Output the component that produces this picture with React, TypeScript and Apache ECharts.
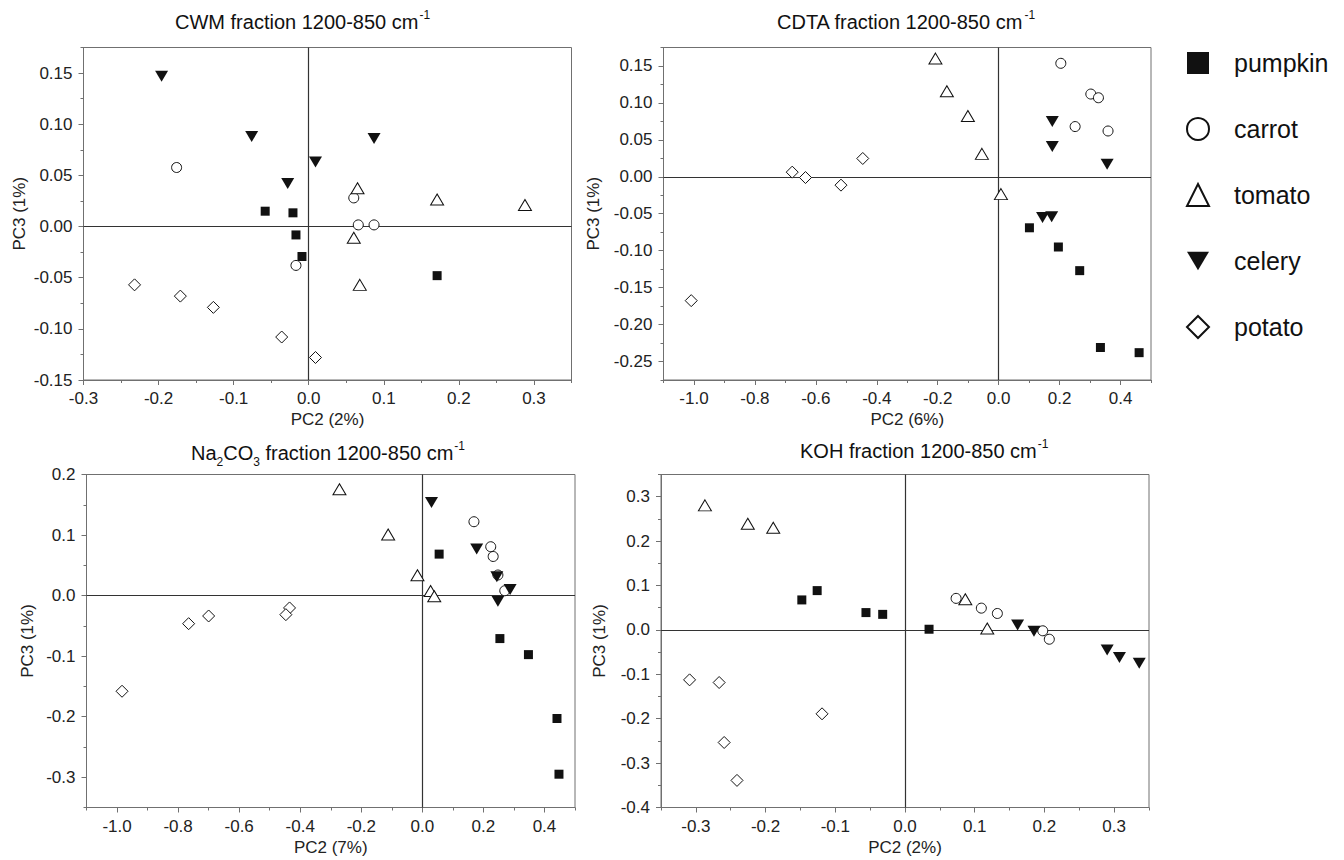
import React, { useEffect, useRef } from "react";
import * as echarts from "echarts";

const FONT = "'Liberation Sans', Arial, Helvetica, sans-serif";
const SPECIES = ["pumpkin", "carrot", "tomato", "celery", "potato"];

// ---- CWM fraction (PC2 2%, PC3 1%)
const cwmPumpkin = [[-0.058, 0.015], [-0.021, 0.0134], [-0.017, -0.0082], [-0.009, -0.0293], [0.171, -0.048]];
const cwmCarrot = [[-0.176, 0.0577], [0.060, 0.028], [0.066, 0.0016], [0.087, 0.0016], [-0.017, -0.038]];
const cwmTomato = [[0.065, 0.0375], [0.171, 0.0265], [0.288, 0.021], [0.060, -0.011], [0.068, -0.057]];
const cwmCelery = [[-0.196, 0.147], [-0.076, 0.088], [0.087, 0.086], [0.009, 0.063], [-0.028, 0.042]];
const cwmPotato = [[-0.232, -0.057], [-0.171, -0.068], [-0.127, -0.079], [-0.036, -0.108], [0.009, -0.128]];

// ---- CDTA fraction (PC2 6%, PC3 1%)
const cdtaPumpkin = [[0.101, -0.069], [0.196, -0.095], [0.266, -0.127], [0.334, -0.231], [0.461, -0.238]];
const cdtaCarrot = [[0.204, 0.1536], [0.3025, 0.112], [0.3275, 0.107], [0.251, 0.068], [0.359, 0.062]];
const cdtaTomato = [[-0.2075, 0.16], [-0.17, 0.1158], [-0.101, 0.0824], [-0.055, 0.031], [0.0075, -0.0234]];
const cdtaCelery = [[0.176, 0.075], [0.176, 0.041], [0.356, 0.017], [0.144, -0.055], [0.174, -0.054]];
const cdtaPotato = [[-1.009, -0.1676], [-0.6775, 0.0063], [-0.634, -0.001], [-0.5175, -0.0113], [-0.446, 0.0248]];

// ---- Na2CO3 fraction (PC2 7%, PC3 1%)
const naPumpkin = [[0.055, 0.0685], [0.254, -0.071], [0.3475, -0.0975], [0.441, -0.203], [0.4475, -0.295]];
const naCarrot = [[0.169, 0.122], [0.224, 0.0807], [0.232, 0.0646], [0.2475, 0.034], [0.27, 0.008]];
const naTomato = [[-0.2715, 0.1757], [-0.112, 0.101], [-0.016, 0.0337], [0.027, 0.0077], [0.039, -0.001]];
const naCelery = [[0.03, 0.1536], [0.178, 0.0768], [0.244, 0.031], [0.2875, 0.0099], [0.2475, -0.0094]];
const naPotato = [[-0.9836, -0.158], [-0.7655, -0.0464], [-0.7, -0.0337], [-0.435, -0.0204], [-0.447, -0.0315]];

// ---- KOH fraction (PC2 2%, PC3 1%)
const kohPumpkin = [[-0.148, 0.0675], [-0.126, 0.0885], [-0.056, 0.039], [-0.032, 0.035], [0.0345, 0.0015]];
const kohCarrot = [[0.0733, 0.071], [0.1095, 0.049], [0.1325, 0.037], [0.1976, -0.002], [0.207, -0.021]];
const kohTomato = [[-0.287, 0.2805], [-0.2255, 0.239], [-0.189, 0.23], [0.0865, 0.069], [0.118, 0.003]];
const kohCelery = [[0.1615, 0.011], [0.185, -0.003], [0.29, -0.045], [0.3076, -0.062], [0.336, -0.075]];
const kohPotato = [[-0.309, -0.1125], [-0.2666, -0.1185], [-0.2594, -0.2536], [-0.241, -0.339], [-0.119, -0.189]];

// ---- tick labels
const cwmXTicks = [-0.3, -0.2, -0.1, 0, 0.1, 0.2, 0.3];
const cwmYTicks = [-0.15, -0.1, -0.05, 0, 0.05, 0.1, 0.15];
const cdtaXTicks = [-1.0, -0.8, -0.6, -0.4, -0.2, 0, 0.2, 0.4];
const cdtaYTicks = [-0.25, -0.2, -0.15, -0.1, -0.05, 0, 0.05, 0.1, 0.15];
const naXTicks = [-1.0, -0.8, -0.6, -0.4, -0.2, 0, 0.2, 0.4];
const naYTicks = [-0.3, -0.2, -0.1, 0, 0.1, 0.2];
const kohXTicks = [-0.3, -0.2, -0.1, 0, 0.1, 0.2, 0.3];
const kohYTicks = [-0.4, -0.3, -0.2, -0.1, 0, 0.1, 0.2, 0.3];

const TITLES = [
  "{n|CWM fraction 1200-850 cm}{sup|-1}",
  "{n|CDTA fraction 1200-850 cm}{sup|-1}",
  "{n|Na}{sub|2}{n|CO}{sub|3}{n| fraction 1200-850 cm}{sup|-1}",
  "{n|KOH fraction 1200-850 cm}{sup|-1}",
];
const XNAMES = ["PC2 (2%)", "PC2 (6%)", "PC2 (7%)", "PC2 (2%)"];
const YNAME = "PC3 (1%)";

const PANELS = [
  { data: [cwmPumpkin, cwmCarrot, cwmTomato, cwmCelery, cwmPotato], xr: [-0.3, 0.35], yr: [-0.15, 0.175], xt: cwmXTicks, yt: cwmYTicks, xd: 1, yd: 2 },
  { data: [cdtaPumpkin, cdtaCarrot, cdtaTomato, cdtaCelery, cdtaPotato], xr: [-1.1, 0.5], yr: [-0.275, 0.175], xt: cdtaXTicks, yt: cdtaYTicks, xd: 1, yd: 2 },
  { data: [naPumpkin, naCarrot, naTomato, naCelery, naPotato], xr: [-1.1, 0.5], yr: [-0.35, 0.2], xt: naXTicks, yt: naYTicks, xd: 1, yd: 1 },
  { data: [kohPumpkin, kohCarrot, kohTomato, kohCelery, kohPotato], xr: [-0.35, 0.35], yr: [-0.4, 0.35], xt: kohXTicks, yt: kohYTicks, xd: 1, yd: 1 },
];

const LAYOUT = [
  { grid: { left: 83.5, top: 47.5, width: 488, height: 332.5 }, title: { left: 175, top: 7 }, yGap: 56 },
  { grid: { left: 663.5, top: 47.5, width: 487.5, height: 332.5 }, title: { left: 777, top: 7 }, yGap: 62 },
  { grid: { left: 86.5, top: 474.5, width: 488.5, height: 333 }, title: { left: 191, top: 438 }, yGap: 51 },
  { grid: { left: 661, top: 474.5, width: 488, height: 333 }, title: { left: 800, top: 436 }, yGap: 53 },
];

const DOWN_TRI = "path://M0,0L2,0L1,1.7Z";
const SYMBOLS = [
  { symbol: "rect", size: 9, open: false },
  { symbol: "circle", size: 10, open: true },
  { symbol: "triangle", size: [13, 11], open: true },
  { symbol: DOWN_TRI, size: [13, 11], open: false },
  { symbol: "diamond", size: [12, 12], open: true },
];

function minorsOf(major: number[], range: number[]) {
  const step = major[1] - major[0];
  const out: number[] = [];
  const first = major[0] - step / 2;
  if (first >= range[0] - 1e-9) out.push(first);
  for (const v of major) {
    const m = v + step / 2;
    if (m <= range[1] + 1e-9) out.push(m);
  }
  return out;
}

const fmt = (d: number) => (v: number) => (Math.abs(v) < 1e-9 ? (0).toFixed(d) : v.toFixed(d));

export default function App() {
  const ref = useRef<HTMLDivElement>(null);
  useEffect(() => {
    if (!ref.current) return;
    const chart = echarts.init(ref.current, null, { renderer: "svg" });
    const AX = "#707070";
    const grid: any[] = [];
    const xAxis: any[] = [];
    const yAxis: any[] = [];
    const series: any[] = [];
    const title: any[] = [];
    PANELS.forEach((p, i) => {
      const L = LAYOUT[i];
      grid.push({ ...L.grid, show: true, borderColor: AX, borderWidth: 1, backgroundColor: "transparent" });
      title.push({
        text: TITLES[i],
        left: L.title.left,
        top: L.title.top,
        padding: 0,
        textStyle: {
          fontSize: 20,
          fontWeight: "normal",
          fontFamily: FONT,
          color: "#111",
          rich: {
            n: { fontSize: 20, fontFamily: FONT, color: "#111", lineHeight: 30, verticalAlign: "middle" },
            sup: { fontSize: 12, fontFamily: FONT, color: "#111", lineHeight: 30, verticalAlign: "top", padding: [2, 0, 0, 1] },
            sub: { fontSize: 12, fontFamily: FONT, color: "#111", lineHeight: 30, verticalAlign: "bottom", padding: [0, 0, 0, 0] },
          },
        },
      });
      const common = { type: "value", gridIndex: i, splitLine: { show: false } };
      xAxis.push({
        ...common,
        position: "bottom",
        min: p.xr[0],
        max: p.xr[1],
        name: XNAMES[i],
        nameLocation: "middle",
        nameGap: 31,
        nameTextStyle: { fontSize: 17, fontFamily: FONT, color: "#222" },
        axisLine: { show: true, onZero: false, lineStyle: { color: AX, width: 1 } },
        axisTick: { show: true, inside: false, length: 5, customValues: p.xt, lineStyle: { color: AX } },
        axisLabel: { show: true, customValues: p.xt, margin: 10, fontSize: 17, fontFamily: FONT, color: "#222", formatter: fmt(p.xd) },
      });
      xAxis.push({
        ...common,
        position: "bottom",
        min: p.xr[0],
        max: p.xr[1],
        axisLine: { show: false, onZero: false },
        axisTick: { show: true, inside: false, length: 3, customValues: minorsOf(p.xt, p.xr), lineStyle: { color: AX } },
        axisLabel: { show: false },
      });
      yAxis.push({
        ...common,
        position: "left",
        min: p.yr[0],
        max: p.yr[1],
        name: YNAME,
        nameLocation: "middle",
        nameGap: L.yGap,
        nameRotate: 90,
        nameTextStyle: { fontSize: 17, fontFamily: FONT, color: "#222" },
        axisLine: { show: true, onZero: false, lineStyle: { color: AX, width: 1 } },
        axisTick: { show: true, inside: false, length: 5, customValues: p.yt, lineStyle: { color: AX } },
        axisLabel: { show: true, customValues: p.yt, margin: 11, fontSize: 17, fontFamily: FONT, color: "#222", formatter: fmt(p.yd) },
      });
      yAxis.push({
        ...common,
        position: "left",
        min: p.yr[0],
        max: p.yr[1],
        axisLine: { show: false, onZero: false },
        axisTick: { show: true, inside: false, length: 3, customValues: minorsOf(p.yt, p.yr), lineStyle: { color: AX } },
        axisLabel: { show: false },
      });
      p.data.forEach((d, k) => {
        const s = SYMBOLS[k];
        series.push({
          type: "scatter",
          name: SPECIES[k],
          xAxisIndex: 2 * i,
          yAxisIndex: 2 * i,
          data: d,
          symbol: s.symbol,
          symbolSize: s.size,
          z: 3,
          itemStyle: s.open
            ? { color: "#ffffff", borderColor: "#111", borderWidth: 1, opacity: 1 }
            : { color: "#111", borderColor: "#111", borderWidth: 0, opacity: 1 },
          emphasis: { disabled: true },
          markLine:
            k === 0
              ? {
                  silent: true,
                  symbol: ["none", "none"],
                  label: { show: false },
                  lineStyle: { color: "#333", type: "solid", width: 1.2 },
                  emphasis: { disabled: true },
                  data: [{ xAxis: 0 }, { yAxis: 0 }],
                  z: 1,
                }
              : undefined,
        });
      });
    });

    chart.setOption({
      animation: false,
      backgroundColor: "#ffffff",
      textStyle: { fontFamily: FONT },
      title,
      grid,
      xAxis,
      yAxis,
      series,
      legend: {
        orient: "vertical",
        left: 1181,
        top: 45,
        itemWidth: 22,
        itemHeight: 22,
        itemGap: 40,
        selectedMode: false,
        data: SPECIES,
        textStyle: { fontSize: 25, fontFamily: FONT, color: "#111", lineHeight: 26, padding: [0, 0, 0, 20] },
      },
    });
    return () => chart.dispose();
  }, []);
  return (
    <div
      ref={ref}
      style={{ position: "absolute", left: 0, top: 0, width: 1344, height: 860, background: "#fff" }}
    />
  );
}
